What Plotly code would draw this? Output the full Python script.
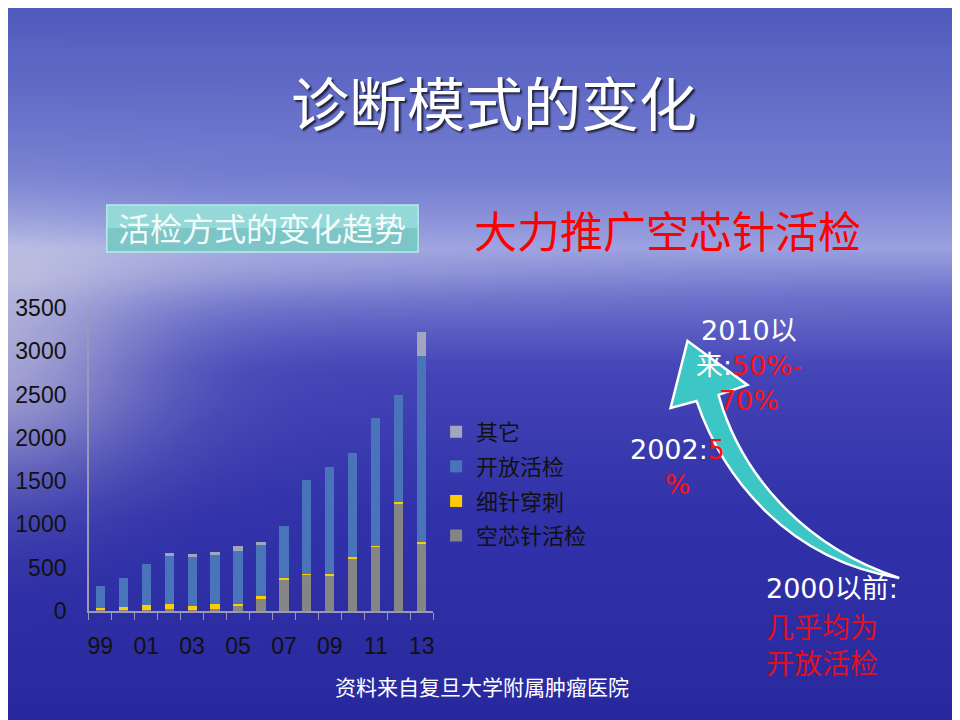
import base64
import math
import struct
import zlib

import plotly.graph_objects as go

# data
years = ["99", "00", "01", "02", "03", "04", "05", "06",
         "07", "08", "09", "10", "11", "12", "13"]
core_needle = [8, 5, 5, 20, 10, 20, 55, 135, 358, 416, 409, 601, 740, 1245, 779]
fine_needle = [25, 40, 60, 65, 50, 55, 30, 35, 27, 15, 19, 19, 15, 19, 19]
open_biopsy = [252, 330, 472, 550, 568, 568, 605, 602, 598, 1076, 1230, 1207, 1477, 1234, 2151]
other = [0, 0, 0, 40, 35, 35, 55, 20, 0, 0, 0, 0, 0, 0, 278]
tick_text = [y if i % 2 == 0 else "" for i, y in enumerate(years)]

W, H = 960, 720


def px(x, y):
    # slide pixel -> paper coords (the page shows the figure shifted / squeezed a bit)
    return (x - 8) / W, 1 - ((y - 21) / 0.964) / H


# ---- background picture (sky + sea), built as a small png ----
def background_png(w=96, h=72):
    stops = [(0, (78, 88, 188)), (100, (100, 110, 200)), (180, (118, 128, 210)),
             (245, (155, 160, 224)), (290, (110, 114, 204)), (360, (70, 70, 184)),
             (500, (50, 50, 170)), (720, (40, 40, 158))]
    rows = []
    for j in range(h):
        yy = (j + 0.5) * H / h
        for k in range(len(stops) - 1):
            if stops[k][0] <= yy <= stops[k + 1][0]:
                y0, c0 = stops[k]
                y1, c1 = stops[k + 1]
                break
        t = (yy - y0) / (y1 - y0)
        base = [c0[i] + (c1[i] - c0[i]) * t for i in range(3)]
        row = b"\x00"
        for i in range(w):
            xx = (i + 0.5) * W / w
            g = 0.6 * math.exp(-(xx / 160) ** 2 - ((yy - 350) / 120) ** 2)
            g += 0.2 * math.exp(-((xx - 120) / 420) ** 2 - ((yy - 265) / 35) ** 2)
            g = min(g, 0.8)
            c = [int(base[n] + (232 - base[n]) * g) for n in range(3)]
            row += bytes(c)
        rows.append(row)
    raw = b"".join(rows)

    def chunk(tag, data):
        return (struct.pack(">I", len(data)) + tag + data
                + struct.pack(">I", zlib.crc32(tag + data) & 0xffffffff))

    png = b"\x89PNG\r\n\x1a\n"
    png += chunk(b"IHDR", struct.pack(">IIBBBBB", w, h, 8, 2, 0, 0, 0))
    png += chunk(b"IDAT", zlib.compress(raw, 9))
    png += chunk(b"IEND", b"")
    return "data:image/png;base64," + base64.b64encode(png).decode()


fig = go.Figure()

# stacked bars, bottom to top; legend lists them top to bottom
series = [("空芯针活检", core_needle, "#858585", 4),
          ("细针穿刺", fine_needle, "#ffcc00", 3),
          ("开放活检", open_biopsy, "#4a74ba", 2),
          ("其它", other, "#a2a6bc", 1)]
for name, vals, color, rank in series:
    fig.add_trace(go.Bar(x=years, y=vals, name=name, legendgroup=name, legendrank=rank,
                         marker=dict(color=color, line_width=0)))

x0, y_top = px(88, 308)
x1, y_bot = px(433, 611)

fig.update_layout(
    width=W, height=H,
    margin=dict(l=0, r=0, t=0, b=0),
    barmode="stack",
    bargap=0.6,
    paper_bgcolor="#4a4cb8",
    plot_bgcolor="rgba(0,0,0,0)",
    font=dict(family="Liberation Sans, Arial, sans-serif", color="#111111"),
    xaxis=dict(domain=[x0, x1], type="category", tickvals=years, ticktext=tick_text,
               tickson="boundaries", ticks="outside", ticklen=7, tickcolor="#9a9ab8",
               showline=True, linecolor="#9a9ab8", linewidth=1.5, showgrid=False,
               tickangle=0, tickfont=dict(size=23, color="#111111"),
               ticklabelstandoff=14),
    yaxis=dict(domain=[y_bot, y_top], range=[0, 3500], dtick=500, showgrid=False,
               zeroline=False, showline=True, linecolor="#9a9ab8", linewidth=1.5,
               ticks="", tickfont=dict(size=23, color="#111111"),
               ticklabelstandoff=16),
    legend=dict(x=px(436, 0)[0], y=px(0, 411)[1], xanchor="left", yanchor="top",
                traceorder="grouped", tracegroupgap=3,
                bgcolor="rgba(0,0,0,0)",
                font=dict(family="Noto Sans CJK SC", size=22, color="#111111"),
                itemwidth=30),
    showlegend=True,
    # picture made a little larger than the page so its soft edges stay outside
    images=[dict(source=background_png(), xref="paper", yref="paper", x=-0.03, y=1.04,
                 sizex=1.06, sizey=1.08, xanchor="left", yanchor="top",
                 sizing="stretch", layer="below")],
)

# teal box behind the subtitle
bx0, by0 = px(106, 205)
bx1, by1 = px(418, 252)
bmid = px(0, 228)[1]
fig.add_shape(type="rect", xref="paper", yref="paper", x0=bx0, x1=bx1, y0=by1, y1=by0,
              fillcolor="#7cc6c8", line=dict(color="#b6ecec", width=1.5), layer="below")
fig.add_shape(type="rect", xref="paper", yref="paper", x0=bx0, x1=bx1, y0=bmid, y1=by0,
              fillcolor="rgba(170,232,230,0.55)", line_width=0, layer="below")

# curved arrow
pts = {
    "tip": (688, 341), "rb": (748, 385), "rs": (719, 395),
    "c1": (740, 470), "c2": (800, 545), "tail": (900, 578),
    "c3": (790, 560), "c4": (724, 480), "ls": (697, 401), "lb": (671, 408),
}
P = {k: "%.4f,%.4f" % px(*v) for k, v in pts.items()}
arrow_path = ("M %s L %s L %s C %s %s %s C %s %s %s L %s Z" %
              (P["tip"], P["rb"], P["rs"], P["c1"], P["c2"], P["tail"],
               P["c3"], P["c4"], P["ls"], P["lb"]))
fig.add_shape(type="path", xref="paper", yref="paper", path=arrow_path,
              fillcolor="#3cc6c6", line=dict(color="white", width=2.5))

cjk = "Noto Sans CJK SC"
shadow = "2px 2px 2px rgba(0,0,0,0.7)"


def text(x, y, s, size, color="white", family=cjk, align="center", anchor="center", sh="none"):
    xp, yp = px(x, y)
    fig.add_annotation(x=xp, y=yp, xref="paper", yref="paper", text=s, showarrow=False,
                       xanchor=anchor, yanchor="middle", align=align,
                       font=dict(family=family, size=size, color=color, shadow=sh))


text(494, 101, "诊断模式的变化", 58, sh=shadow)
text(262, 227, "活检方式的变化趋势", 32, color="#f4fbfb")
text(668, 229, "大力推广空芯针活检", 43, color="#ff0000")

num = "DejaVu Sans, " + cjk
red = "<span style='color:#ff1010'>%s</span>"
text(750, 366, "2010以<br>来:" + red % "50%-" + "<br>" + red % "70%", 27, family=num)
text(678, 467, "2002:" + red % "5" + "<br>" + red % "%", 27, family=num)
text(833, 589, "2000以前:", 27, family=num)
text(823, 644, "几乎均为<br>开放活检", 28, color="#e0101c")

text(482, 686, "资料来自复旦大学附属肿瘤医院", 21)

fig.write_html("out.html")
